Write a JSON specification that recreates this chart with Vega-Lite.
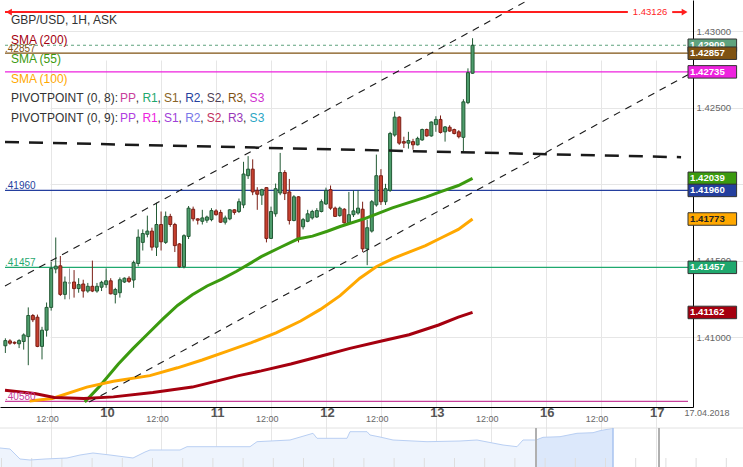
{
 "$schema": "https://vega.github.io/schema/vega-lite/v6.json",
 "padding": 0,
 "autosize": "none",
 "background": "#ffffff",
 "width": 743,
 "height": 467,
 "config": {"view": {"stroke": null}, "font": "Liberation Sans", "axis": {"labelFont": "Liberation Sans"}, "text": {"font": "Liberation Sans"}},
 "datasets": {
  "hlines": [{"key":"cur","p":1.42909,"t0":-22.08,"t1":127.04},{"key":"R3_8","p":1.42857,"t0":-22.08,"t1":127.04},{"key":"R1_9","p":1.42735,"t0":-22.08,"t1":127.04},{"key":"R2_8","p":1.4196,"t0":-22.08,"t1":127.04},{"key":"R1_8","p":1.41457,"t0":-22.08,"t1":127.04},{"key":"PP_8","p":1.4058,"t0":-22.08,"t1":127.04}],
  "tags": [{"key":"cur","p":1.42909,"t0":127.04,"t1":137.65,"tt":127.5},{"key":"R3_8","p":1.42857,"t0":127.04,"t1":137.65,"tt":127.5},{"key":"R1_9","p":1.42735,"t0":127.04,"t1":137.65,"tt":127.5},{"key":"SMA55","p":1.42039,"t0":127.04,"t1":137.65,"tt":127.5},{"key":"R2_8","p":1.4196,"t0":127.04,"t1":137.65,"tt":127.5},{"key":"SMA100","p":1.41773,"t0":127.04,"t1":137.65,"tt":127.5},{"key":"R1_8","p":1.41457,"t0":127.04,"t1":137.65,"tt":127.5},{"key":"SMA200","p":1.41162,"t0":127.04,"t1":137.65,"tt":127.5}],
  "alertsegs": [{"t":-22.08,"t2":113.91,"p":1.43126},{"t":123.59,"t2":125.97,"p":1.43126}],
  "alertarrows": [{"t":-21.22,"p":1.43126,"dir":"l"},{"t":126.3,"p":1.43126,"dir":"r"}],
  "alertlabel": [{"t":118.75,"p":1.43126}],
  "datelabel": [{"t":131.2,"p":1.405064,"txt":"17.04.2018"}],
  "days": [{"t":0.32,"p":1.40504,"txt":"10"},{"t":24.32,"p":1.40504,"txt":"11"},{"t":48.32,"p":1.40504,"txt":"12"},{"t":72.32,"p":1.40504,"txt":"13"},{"t":96.32,"p":1.40504,"txt":"16"},{"t":120.32,"p":1.40504,"txt":"17"}],
  "channels": [{"id":"up","t":-22.08,"p":1.41335},{"id":"up","t":127.04,"p":1.43775},{"id":"low","t":-3.7,"p":1.405765},{"id":"low","t":127.04,"p":1.42716}],
  "hchannel": [{"id":"h","t":-22.08,"p":1.42277},{"id":"h","t":125.53,"p":1.42177}],
  "sma": [
   {"key":"SMA55","t":-4.67,"p":1.405765},{"key":"SMA55","t":-1.64,"p":1.40672},{"key":"SMA55","t":2.67,"p":1.40825},{"key":"SMA55","t":5.9,"p":1.40927},{"key":"SMA55","t":9.12,"p":1.41023},{"key":"SMA55","t":12.35,"p":1.41118},{"key":"SMA55","t":15.58,"p":1.41208},{"key":"SMA55","t":18.81,"p":1.41278},{"key":"SMA55","t":22.04,"p":1.41335},{"key":"SMA55","t":25.26,"p":1.4138},{"key":"SMA55","t":28.49,"p":1.41431},{"key":"SMA55","t":31.72,"p":1.41488},{"key":"SMA55","t":33.87,"p":1.41527},{"key":"SMA55","t":38.18,"p":1.4159},{"key":"SMA55","t":41.83,"p":1.41642},{"key":"SMA55","t":45.06,"p":1.41661},{"key":"SMA55","t":48.29,"p":1.41693},{"key":"SMA55","t":51.09,"p":1.41724},{"key":"SMA55","t":56.46,"p":1.41775},{"key":"SMA55","t":62.49,"p":1.41846},{"key":"SMA55","t":69.8,"p":1.41916},{"key":"SMA55","t":73.25,"p":1.41954},{"key":"SMA55","t":76.91,"p":1.41992},{"key":"SMA55","t":80,"p":1.42039},
   {"key":"SMA100","t":-16.7,"p":1.40583},{"key":"SMA100","t":-11.75,"p":1.406},{"key":"SMA100","t":-4.22,"p":1.40674},{"key":"SMA100","t":1.59,"p":1.40712},{"key":"SMA100","t":9.55,"p":1.40749},{"key":"SMA100","t":15.58,"p":1.408},{"key":"SMA100","t":20.96,"p":1.40851},{"key":"SMA100","t":26.34,"p":1.40908},{"key":"SMA100","t":31.72,"p":1.40965},{"key":"SMA100","t":37.1,"p":1.41029},{"key":"SMA100","t":42.47,"p":1.41106},{"key":"SMA100","t":46.78,"p":1.41182},{"key":"SMA100","t":51.09,"p":1.41272},{"key":"SMA100","t":55.39,"p":1.41386},{"key":"SMA100","t":58.98,"p":1.41461},{"key":"SMA100","t":62.55,"p":1.41514},{"key":"SMA100","t":66.14,"p":1.41557},{"key":"SMA100","t":69.74,"p":1.41599},{"key":"SMA100","t":73.31,"p":1.41652},{"key":"SMA100","t":76.9,"p":1.41705},{"key":"SMA100","t":80,"p":1.41773},
   {"key":"SMA200","t":-22.08,"p":1.40653},{"key":"SMA200","t":-15.62,"p":1.40632},{"key":"SMA200","t":-11.32,"p":1.40606},{"key":"SMA200","t":-4.86,"p":1.406},{"key":"SMA200","t":1.59,"p":1.4061},{"key":"SMA200","t":10.2,"p":1.40638},{"key":"SMA200","t":18.81,"p":1.40674},{"key":"SMA200","t":28.92,"p":1.40749},{"key":"SMA200","t":33.87,"p":1.4078},{"key":"SMA200","t":40.32,"p":1.40825},{"key":"SMA200","t":46.78,"p":1.40876},{"key":"SMA200","t":53.23,"p":1.40927},{"key":"SMA200","t":59.68,"p":1.40972},{"key":"SMA200","t":66.14,"p":1.41016},{"key":"SMA200","t":72.6,"p":1.4108},{"key":"SMA200","t":76.9,"p":1.41131},{"key":"SMA200","t":80,"p":1.41162}
  ],
  "candles": [
   {"t":-22,"o":1.40944,"h":1.40993,"l":1.40897,"c":1.40978},{"t":-21,"o":1.40976,"h":1.40987,"l":1.40951,"c":1.40961},{"t":-20,"o":1.40967,"h":1.40972,"l":1.40953,"c":1.40961},{"t":-19,"o":1.40957,"h":1.40987,"l":1.40929,"c":1.40978},{"t":-18,"o":1.40972,"h":1.41025,"l":1.40919,"c":1.41015},{"t":-17,"o":1.41004,"h":1.41195,"l":1.40817,"c":1.41142},{"t":-16,"o":1.41142,"h":1.41152,"l":1.41099,"c":1.41114},{"t":-15,"o":1.41131,"h":1.41148,"l":1.40935,"c":1.4094},{"t":-14,"o":1.4094,"h":1.41068,"l":1.40855,"c":1.41046},{"t":-13,"o":1.41046,"h":1.41227,"l":1.41004,"c":1.41195},{"t":-12,"o":1.41195,"h":1.41493,"l":1.41174,"c":1.4145},{"t":-11,"o":1.41446,"h":1.41652,"l":1.41418,"c":1.41465},{"t":-10,"o":1.41467,"h":1.41531,"l":1.4127,"c":1.4128},{"t":-9,"o":1.4128,"h":1.41397,"l":1.41248,"c":1.41361},{"t":-8,"o":1.41355,"h":1.4145,"l":1.41248,"c":1.41355},{"t":-7,"o":1.41361,"h":1.41439,"l":1.41259,"c":1.41318},{"t":-6,"o":1.41318,"h":1.41386,"l":1.41291,"c":1.41344},{"t":-5,"o":1.41348,"h":1.41376,"l":1.41259,"c":1.41302},{"t":-4,"o":1.41302,"h":1.41355,"l":1.41291,"c":1.41333},{"t":-3,"o":1.41333,"h":1.41501,"l":1.41295,"c":1.41302},{"t":-2,"o":1.41302,"h":1.41355,"l":1.41291,"c":1.41333},{"t":-1,"o":1.41327,"h":1.41369,"l":1.41302,"c":1.41359},
   {"t":0,"o":1.41344,"h":1.4145,"l":1.41323,"c":1.41369},{"t":1,"o":1.41369,"h":1.41386,"l":1.4128,"c":1.41284},{"t":2,"o":1.4128,"h":1.41323,"l":1.41221,"c":1.41312},{"t":3,"o":1.41291,"h":1.41391,"l":1.41259,"c":1.41376},{"t":4,"o":1.41361,"h":1.41391,"l":1.41355,"c":1.41386},{"t":5,"o":1.41386,"h":1.41399,"l":1.41355,"c":1.41365},{"t":6,"o":1.41374,"h":1.41501,"l":1.41323,"c":1.41488},{"t":7,"o":1.41482,"h":1.41705,"l":1.41463,"c":1.41654},{"t":8,"o":1.4162,"h":1.41705,"l":1.41567,"c":1.41678},{"t":9,"o":1.41673,"h":1.41795,"l":1.41653,"c":1.41694},{"t":10,"o":1.41694,"h":1.41716,"l":1.41567,"c":1.41589},{"t":11,"o":1.41589,"h":1.41879,"l":1.41531,"c":1.41737},{"t":12,"o":1.41737,"h":1.41822,"l":1.41567,"c":1.41624},{"t":13,"o":1.4162,"h":1.41822,"l":1.4161,"c":1.4179},{"t":14,"o":1.4179,"h":1.41807,"l":1.41722,"c":1.41737},{"t":15,"o":1.41737,"h":1.41748,"l":1.41557,"c":1.41599},{"t":16,"o":1.4161,"h":1.41616,"l":1.41455,"c":1.41461},{"t":17,"o":1.41461,"h":1.41673,"l":1.4145,"c":1.41664},{"t":18,"o":1.41659,"h":1.41858,"l":1.41642,"c":1.41844},{"t":19,"o":1.41837,"h":1.41854,"l":1.41758,"c":1.41774},{"t":20,"o":1.41774,"h":1.41777,"l":1.41737,"c":1.41765},{"t":21,"o":1.41758,"h":1.41833,"l":1.41737,"c":1.4178},{"t":22,"o":1.41765,"h":1.41795,"l":1.41748,"c":1.41786},{"t":23,"o":1.41769,"h":1.41844,"l":1.41758,"c":1.41828},
   {"t":24,"o":1.41826,"h":1.41837,"l":1.41795,"c":1.41801},{"t":25,"o":1.41816,"h":1.41833,"l":1.41748,"c":1.41752},{"t":26,"o":1.41752,"h":1.41795,"l":1.41737,"c":1.4178},{"t":27,"o":1.41774,"h":1.41837,"l":1.41765,"c":1.41833},{"t":28,"o":1.41833,"h":1.41837,"l":1.41801,"c":1.41816},{"t":29,"o":1.41822,"h":1.41907,"l":1.41812,"c":1.41886},{"t":30,"o":1.41865,"h":1.42147,"l":1.41844,"c":1.42067},{"t":31,"o":1.42056,"h":1.42184,"l":1.42035,"c":1.42099},{"t":32,"o":1.42099,"h":1.42163,"l":1.41929,"c":1.4195},{"t":33,"o":1.4196,"h":1.41981,"l":1.41833,"c":1.41935},{"t":34,"o":1.41929,"h":1.41971,"l":1.41865,"c":1.41965},{"t":35,"o":1.41978,"h":1.41981,"l":1.4162,"c":1.41646},{"t":36,"o":1.41646,"h":1.41854,"l":1.41642,"c":1.41822},{"t":37,"o":1.41807,"h":1.42005,"l":1.41788,"c":1.41971},{"t":38,"o":1.41943,"h":1.42205,"l":1.41929,"c":1.42077},{"t":39,"o":1.42077,"h":1.42092,"l":1.41897,"c":1.41939},{"t":40,"o":1.4195,"h":1.42035,"l":1.41737,"c":1.41763},{"t":41,"o":1.41763,"h":1.41929,"l":1.41758,"c":1.41918},{"t":42,"o":1.41918,"h":1.41922,"l":1.4162,"c":1.41646},{"t":43,"o":1.41722,"h":1.4178,"l":1.41705,"c":1.41769},{"t":44,"o":1.41758,"h":1.41833,"l":1.41752,"c":1.41807},{"t":45,"o":1.4178,"h":1.41833,"l":1.41769,"c":1.41822},{"t":46,"o":1.41786,"h":1.41844,"l":1.4178,"c":1.41828},{"t":47,"o":1.41822,"h":1.41901,"l":1.41816,"c":1.41886},
   {"t":48,"o":1.41871,"h":1.41978,"l":1.41865,"c":1.4196},{"t":49,"o":1.41965,"h":1.41992,"l":1.41833,"c":1.41844},{"t":50,"o":1.41844,"h":1.41854,"l":1.41786,"c":1.4179},{"t":51,"o":1.41795,"h":1.41854,"l":1.41788,"c":1.41844},{"t":52,"o":1.41837,"h":1.41844,"l":1.41743,"c":1.41748},{"t":53,"o":1.41748,"h":1.4195,"l":1.41737,"c":1.41801},{"t":54,"o":1.41801,"h":1.4196,"l":1.41786,"c":1.41826},{"t":55,"o":1.41812,"h":1.4196,"l":1.41801,"c":1.41844},{"t":56,"o":1.41837,"h":1.41886,"l":1.41557,"c":1.41578},{"t":57,"o":1.41578,"h":1.41769,"l":1.41471,"c":1.41716},{"t":58,"o":1.41694,"h":1.41897,"l":1.41684,"c":1.41886},{"t":59,"o":1.41865,"h":1.42194,"l":1.41854,"c":1.42056},{"t":60,"o":1.42056,"h":1.42099,"l":1.41865,"c":1.41886},{"t":61,"o":1.41886,"h":1.42003,"l":1.41865,"c":1.41971},{"t":62,"o":1.4196,"h":1.42343,"l":1.4195,"c":1.42332},{"t":63,"o":1.42322,"h":1.42475,"l":1.42311,"c":1.42439},{"t":64,"o":1.42439,"h":1.42445,"l":1.42258,"c":1.42269},{"t":65,"o":1.42279,"h":1.42311,"l":1.42237,"c":1.42269},{"t":66,"o":1.42269,"h":1.42343,"l":1.42233,"c":1.42286},{"t":67,"o":1.42279,"h":1.42297,"l":1.42226,"c":1.42258},{"t":68,"o":1.42258,"h":1.42311,"l":1.42254,"c":1.423},{"t":69,"o":1.4229,"h":1.42364,"l":1.42284,"c":1.42358},{"t":70,"o":1.42358,"h":1.42364,"l":1.42311,"c":1.42316},{"t":71,"o":1.42316,"h":1.42411,"l":1.42311,"c":1.42407},
   {"t":72,"o":1.4239,"h":1.42445,"l":1.42343,"c":1.42424},{"t":73,"o":1.42424,"h":1.4245,"l":1.42332,"c":1.42339},{"t":74,"o":1.42343,"h":1.42381,"l":1.42279,"c":1.42375},{"t":75,"o":1.42373,"h":1.42386,"l":1.42343,"c":1.42348},{"t":76,"o":1.42358,"h":1.42364,"l":1.42326,"c":1.42332},{"t":77,"o":1.42343,"h":1.42354,"l":1.423,"c":1.42311},{"t":78,"o":1.42307,"h":1.42556,"l":1.42216,"c":1.42539},{"t":79,"o":1.42534,"h":1.42758,"l":1.42524,"c":1.4273},{"t":80,"o":1.42726,"h":1.42955,"l":1.42722,"c":1.42909}
  ],
  "legend": [
   {"t":-20.785,"p":1.43077,"txt":"GBP/USD, 1H, ASK","key":"dark"},
   {"t":-20.785,"p":1.42945,"txt":"SMA (200)","key":"SMA200"},
   {"t":-20.785,"p":1.42818,"txt":"SMA (55)","key":"SMA55"},
   {"t":-20.785,"p":1.42689,"txt":"SMA (100)","key":"SMA100"},
   {"t":-20.785,"p":1.42562,"txt":"PIVOTPOINT (0, 8):","key":"dark"},
   {"t":3.034,"p":1.42562,"txt":"PP","key":"PP_8"},{"t":6.477,"p":1.42562,"txt":",","key":"dark"},
   {"t":7.918,"p":1.42562,"txt":"R1","key":"R1_8"},{"t":11.21,"p":1.42562,"txt":",","key":"dark"},
   {"t":12.652,"p":1.42562,"txt":"S1","key":"S1_8"},{"t":15.815,"p":1.42562,"txt":",","key":"dark"},
   {"t":17.257,"p":1.42562,"txt":"R2","key":"R2_8"},{"t":20.549,"p":1.42562,"txt":",","key":"dark"},
   {"t":21.991,"p":1.42562,"txt":"S2","key":"S2_8"},{"t":25.154,"p":1.42562,"txt":",","key":"dark"},
   {"t":26.595,"p":1.42562,"txt":"R3","key":"R3_8"},{"t":29.887,"p":1.42562,"txt":",","key":"dark"},
   {"t":31.329,"p":1.42562,"txt":"S3","key":"S3_8"},
   {"t":-20.785,"p":1.42434,"txt":"PIVOTPOINT (0, 9):","key":"dark"},
   {"t":3.034,"p":1.42434,"txt":"PP","key":"PP_9"},{"t":6.477,"p":1.42434,"txt":",","key":"dark"},
   {"t":7.918,"p":1.42434,"txt":"R1","key":"R1_9"},{"t":11.21,"p":1.42434,"txt":",","key":"dark"},
   {"t":12.652,"p":1.42434,"txt":"S1","key":"S1_9"},{"t":15.815,"p":1.42434,"txt":",","key":"dark"},
   {"t":17.257,"p":1.42434,"txt":"R2","key":"R2_9"},{"t":20.549,"p":1.42434,"txt":",","key":"dark"},
   {"t":21.991,"p":1.42434,"txt":"S2","key":"S2_9"},{"t":25.154,"p":1.42434,"txt":",","key":"dark"},
   {"t":26.595,"p":1.42434,"txt":"R3","key":"R3_9"},{"t":29.887,"p":1.42434,"txt":",","key":"dark"},
   {"t":31.329,"p":1.42434,"txt":"S3","key":"S3_9"}
  ],
  "nav": [{"n":0,"v":19},{"n":10,"v":18},{"n":20,"v":8},{"n":30,"v":7},{"n":45,"v":8},{"n":67,"v":9},{"n":80,"v":12},{"n":93,"v":14},{"n":110,"v":12},{"n":133,"v":9},{"n":145,"v":15},{"n":150,"v":17},{"n":180,"v":17},{"n":187,"v":20.3},{"n":250,"v":20.3},{"n":257,"v":25.3},{"n":290,"v":27},{"n":313,"v":33.7},{"n":317,"v":28.7},{"n":347,"v":28.7},{"n":350,"v":35.3},{"n":367,"v":35.3},{"n":370,"v":32},{"n":380,"v":30},{"n":393,"v":27},{"n":427,"v":25.3},{"n":460,"v":26},{"n":477,"v":27},{"n":503,"v":22},{"n":517,"v":20.3},{"n":523,"v":27},{"n":536,"v":27},{"n":543,"v":29.7},{"n":560,"v":30.3},{"n":577,"v":33.7},{"n":593,"v":34.3},{"n":600,"v":36.3},{"n":613,"v":38.7}],
  "navsel": [{"n":536,"v":27},{"n":543,"v":29.7},{"n":560,"v":30.3},{"n":577,"v":33.7},{"n":593,"v":34.3},{"n":600,"v":36.3},{"n":613,"v":38.7}],
  "navticks": [{"n":1.5,"v0":0,"v1":9},{"n":31.7,"v0":0,"v1":9},{"n":61.9,"v0":0,"v1":9},{"n":92.1,"v0":0,"v1":9},{"n":122.3,"v0":0,"v1":9},{"n":152.5,"v0":0,"v1":9},{"n":182.7,"v0":0,"v1":9},{"n":212.9,"v0":0,"v1":9},{"n":243.1,"v0":0,"v1":9},{"n":273.3,"v0":0,"v1":9},{"n":303.5,"v0":0,"v1":9},{"n":333.7,"v0":0,"v1":9},{"n":363.9,"v0":0,"v1":9},{"n":394.1,"v0":0,"v1":9},{"n":424.3,"v0":0,"v1":9},{"n":454.5,"v0":0,"v1":9},{"n":484.7,"v0":0,"v1":9},{"n":514.9,"v0":0,"v1":9},{"n":545.1,"v0":0,"v1":9},{"n":575.3,"v0":0,"v1":9},{"n":605.5,"v0":0,"v1":9},{"n":635.7,"v0":0,"v1":9},{"n":665.9,"v0":0,"v1":9},{"n":696.1,"v0":0,"v1":9},{"n":726.3,"v0":0,"v1":9}],
  "navgray": [{"n":536,"v0":0,"v1":39},{"n":659,"v0":0,"v1":39}],
  "navblue": [{"n":613,"v0":0,"v1":39}],
  "navtop": [{"n0":0,"n1":743,"v":39}]
 },
 "resolve": {"scale": {"x": "independent", "y": "independent"}},
 "layer": [
  {
   "layer": [
    {
     "data": {"name": "hlines"},
     "transform": [{"filter": "datum.key != 'cur'"}],
     "mark": {"type": "rule", "strokeWidth": 1.2},
     "encoding": {
      "x": {"field": "t0", "type": "quantitative", "title": null, "scale": {"domain": [-22.08, 127.04], "range": [0, 693], "nice": false, "zero": false}},
      "x2": {"field": "t1"},
      "y": {"field": "p", "type": "quantitative", "title": null, "scale": {"domain": [1.405765, 1.431722], "range": [407, 0], "nice": false, "zero": false}},
      "color": {"field": "key", "type": "nominal", "legend": null, "scale": {"domain": ["dark","SMA200","SMA55","SMA100","cur","PP_8","R1_8","S1_8","R2_8","S2_8","R3_8","S3_8","PP_9","R1_9","S1_9","R2_9","S2_9","R3_9","S3_9"], "range": ["#333333","#a5000f","#3b9a0f","#ffa800","#5fa37e","#c8409c","#1fa86e","#8a6424","#243f9e","#4f3f55","#7f5212","#cf32cf","#b040e0","#ee22de","#a040d8","#7878e8","#c0305e","#9838b8","#2aa6c4"]}}
     }
    },
    {
     "data": {"name": "hlines"},
     "transform": [{"filter": "datum.key == 'cur'"}],
     "mark": {"type": "rule", "strokeWidth": 1, "strokeDash": [3, 3], "color": "#5fa37e"},
     "encoding": {
      "x": {"field": "t0", "type": "quantitative", "title": null, "scale": {"domain": [-22.08, 127.04], "range": [0, 693], "nice": false, "zero": false}},
      "x2": {"field": "t1"},
      "y": {"field": "p", "type": "quantitative", "title": null, "scale": {"domain": [1.405765, 1.431722], "range": [407, 0], "nice": false, "zero": false}}
     }
    },
    {
     "data": {"name": "candles"},
     "transform": [{"filter": "datum.c > datum.o"}],
     "mark": {"type": "rule", "strokeWidth": 1, "color": "#235a35"},
     "encoding": {
      "x": {"field": "t", "type": "quantitative", "title": null, "scale": {"domain": [-22.08, 127.04], "range": [0, 693], "nice": false, "zero": false}},
      "y": {"field": "l", "type": "quantitative", "title": null, "scale": {"domain": [1.405765, 1.431722], "range": [407, 0], "nice": false, "zero": false}},
      "y2": {"field": "h"}
     }
    },
    {
     "data": {"name": "candles"},
     "transform": [{"filter": "datum.c < datum.o"}],
     "mark": {"type": "rule", "strokeWidth": 1, "color": "#7b1f16"},
     "encoding": {
      "x": {"field": "t", "type": "quantitative", "title": null, "scale": {"domain": [-22.08, 127.04], "range": [0, 693], "nice": false, "zero": false}},
      "y": {"field": "l", "type": "quantitative", "title": null, "scale": {"domain": [1.405765, 1.431722], "range": [407, 0], "nice": false, "zero": false}},
      "y2": {"field": "h"}
     }
    },
    {
     "data": {"name": "candles"},
     "transform": [{"filter": "datum.c == datum.o"}],
     "mark": {"type": "rule", "strokeWidth": 1, "color": "#999999"},
     "encoding": {
      "x": {"field": "t", "type": "quantitative", "title": null, "scale": {"domain": [-22.08, 127.04], "range": [0, 693], "nice": false, "zero": false}},
      "y": {"field": "l", "type": "quantitative", "title": null, "scale": {"domain": [1.405765, 1.431722], "range": [407, 0], "nice": false, "zero": false}},
      "y2": {"field": "h"}
     }
    },
    {
     "data": {"name": "candles"},
     "transform": [{"filter": "datum.c > datum.o"}],
     "mark": {"type": "bar", "width": 3, "strokeWidth": 1, "fill": "#4e9d6c", "stroke": "#235a35"},
     "encoding": {
      "x": {"field": "t", "type": "quantitative", "title": null, "scale": {"domain": [-22.08, 127.04], "range": [0, 693], "nice": false, "zero": false}},
      "y": {"field": "o", "type": "quantitative", "title": null, "scale": {"domain": [1.405765, 1.431722], "range": [407, 0], "nice": false, "zero": false}},
      "y2": {"field": "c"}
     }
    },
    {
     "data": {"name": "candles"},
     "transform": [{"filter": "datum.c < datum.o"}],
     "mark": {"type": "bar", "width": 3, "strokeWidth": 1, "fill": "#c7402f", "stroke": "#7b1f16"},
     "encoding": {
      "x": {"field": "t", "type": "quantitative", "title": null, "scale": {"domain": [-22.08, 127.04], "range": [0, 693], "nice": false, "zero": false}},
      "y": {"field": "o", "type": "quantitative", "title": null, "scale": {"domain": [1.405765, 1.431722], "range": [407, 0], "nice": false, "zero": false}},
      "y2": {"field": "c"}
     }
    },
    {
     "data": {"name": "candles"},
     "transform": [{"filter": "datum.c == datum.o"}],
     "mark": {"type": "bar", "width": 3, "strokeWidth": 1, "fill": "#999999", "stroke": "#999999"},
     "encoding": {
      "x": {"field": "t", "type": "quantitative", "title": null, "scale": {"domain": [-22.08, 127.04], "range": [0, 693], "nice": false, "zero": false}},
      "y": {"field": "o", "type": "quantitative", "title": null, "scale": {"domain": [1.405765, 1.431722], "range": [407, 0], "nice": false, "zero": false}},
      "y2": {"field": "c"}
     }
    },
    {
     "data": {"name": "sma"},
     "mark": {"type": "line", "strokeWidth": 3},
     "encoding": {
      "x": {"field": "t", "type": "quantitative", "title": null, "scale": {"domain": [-22.08, 127.04], "range": [0, 693], "nice": false, "zero": false},
        "axis": {"values": [-12, 0, 12, 24, 36, 48, 60, 72, 84, 96, 108, 120], "offset": -60,
          "labelExpr": "datum.value % 24 == 0 ? '' : '12:00'",
          "labelFontSize": 9, "labelColor": "#666666", "labelOffset": -4.2,
          "labelBaseline": "middle", "labelPadding": 11.5, "ticks": false, "tickSize": 0,
          "domainColor": "#000000", "domainWidth": 1, "grid": true, "gridColor": "#e6e6e6",
          "labelFlush": false, "labelOverlap": false, "title": null}},
      "y": {"field": "p", "type": "quantitative", "title": null, "scale": {"domain": [1.405765, 1.431722], "range": [407, 0], "nice": false, "zero": false},
        "axis": {"orient": "right", "offset": -50, "values": [1.41, 1.415, 1.42, 1.425, 1.43], "format": ".5f",
          "labelFontSize": 9.6, "labelColor": "#666666", "labelPadding": 3, "ticks": false, "tickSize": 0,
          "domainColor": "#000000", "domainWidth": 1, "grid": true, "gridColor": "#e6e6e6",
          "labelFlush": false, "labelOverlap": false, "title": null}},
      "color": {"field": "key", "type": "nominal", "legend": null, "scale": {"domain": ["dark","SMA200","SMA55","SMA100","cur","PP_8","R1_8","S1_8","R2_8","S2_8","R3_8","S3_8","PP_9","R1_9","S1_9","R2_9","S2_9","R3_9","S3_9"], "range": ["#333333","#a5000f","#3b9a0f","#ffa800","#5fa37e","#c8409c","#1fa86e","#8a6424","#243f9e","#4f3f55","#7f5212","#cf32cf","#b040e0","#ee22de","#a040d8","#7878e8","#c0305e","#9838b8","#2aa6c4"]}}
     }
    },
    {
     "data": {"name": "channels"},
     "mark": {"type": "line", "color": "#1a1a1a", "strokeWidth": 1.1, "strokeDash": [7, 6]},
     "encoding": {
      "x": {"field": "t", "type": "quantitative", "title": null, "scale": {"domain": [-22.08, 127.04], "range": [0, 693], "nice": false, "zero": false}},
      "y": {"field": "p", "type": "quantitative", "title": null, "scale": {"domain": [1.405765, 1.431722], "range": [407, 0], "nice": false, "zero": false}},
      "detail": {"field": "id", "type": "nominal"}
     }
    },
    {
     "data": {"name": "hchannel"},
     "mark": {"type": "line", "color": "#1a1a1a", "strokeWidth": 2.5, "strokeDash": [14, 10]},
     "encoding": {
      "x": {"field": "t", "type": "quantitative", "title": null, "scale": {"domain": [-22.08, 127.04], "range": [0, 693], "nice": false, "zero": false}},
      "y": {"field": "p", "type": "quantitative", "title": null, "scale": {"domain": [1.405765, 1.431722], "range": [407, 0], "nice": false, "zero": false}}
     }
    },
    {
     "data": {"name": "alertsegs"},
     "mark": {"type": "rule", "color": "#ff1e1e", "strokeWidth": 2},
     "encoding": {
      "x": {"field": "t", "type": "quantitative", "title": null, "scale": {"domain": [-22.08, 127.04], "range": [0, 693], "nice": false, "zero": false}},
      "x2": {"field": "t2"},
      "y": {"field": "p", "type": "quantitative", "title": null, "scale": {"domain": [1.405765, 1.431722], "range": [407, 0], "nice": false, "zero": false}}
     }
    },
    {
     "data": {"name": "alertarrows"},
     "mark": {"type": "point", "size": 45, "filled": true, "opacity": 1, "color": "#ff1e1e"},
     "encoding": {
      "x": {"field": "t", "type": "quantitative", "title": null, "scale": {"domain": [-22.08, 127.04], "range": [0, 693], "nice": false, "zero": false}},
      "y": {"field": "p", "type": "quantitative", "title": null, "scale": {"domain": [1.405765, 1.431722], "range": [407, 0], "nice": false, "zero": false}},
      "shape": {"field": "dir", "type": "nominal", "legend": null, "scale": {"domain": ["l", "r"], "range": ["triangle-left", "triangle-right"]}}
     }
    },
    {
     "data": {"name": "alertlabel"},
     "mark": {"type": "text", "align": "center", "baseline": "middle", "fontSize": 9.5, "color": "#ff1e1e"},
     "encoding": {
      "x": {"field": "t", "type": "quantitative", "title": null, "scale": {"domain": [-22.08, 127.04], "range": [0, 693], "nice": false, "zero": false}},
      "y": {"field": "p", "type": "quantitative", "title": null, "scale": {"domain": [1.405765, 1.431722], "range": [407, 0], "nice": false, "zero": false}},
      "text": {"field": "p", "type": "quantitative", "format": ".5f"}
     }
    },
    {
     "data": {"name": "legend"},
     "mark": {"type": "text", "align": "left", "baseline": "middle", "fontSize": 12},
     "encoding": {
      "x": {"field": "t", "type": "quantitative", "title": null, "scale": {"domain": [-22.08, 127.04], "range": [0, 693], "nice": false, "zero": false}},
      "y": {"field": "p", "type": "quantitative", "title": null, "scale": {"domain": [1.405765, 1.431722], "range": [407, 0], "nice": false, "zero": false}},
      "text": {"field": "txt", "type": "nominal"},
      "color": {"field": "key", "type": "nominal", "legend": null, "scale": {"domain": ["dark","SMA200","SMA55","SMA100","cur","PP_8","R1_8","S1_8","R2_8","S2_8","R3_8","S3_8","PP_9","R1_9","S1_9","R2_9","S2_9","R3_9","S3_9"], "range": ["#333333","#a5000f","#3b9a0f","#ffa800","#5fa37e","#c8409c","#1fa86e","#8a6424","#243f9e","#4f3f55","#7f5212","#cf32cf","#b040e0","#ee22de","#a040d8","#7878e8","#c0305e","#9838b8","#2aa6c4"]}}
     }
    },
    {
     "data": {"name": "hlines"},
     "transform": [{"filter": "datum.key != 'cur' && datum.key != 'R1_9'"}, {"calculate": "substring(format(datum.p, '.5f'), 1)", "as": "lbl"}],
     "mark": {"type": "text", "align": "left", "baseline": "alphabetic", "fontSize": 10, "dy": -1.5},
     "encoding": {
      "x": {"field": "t0", "type": "quantitative", "title": null, "scale": {"domain": [-22.08, 127.04], "range": [0, 693], "nice": false, "zero": false}},
      "y": {"field": "p", "type": "quantitative", "title": null, "scale": {"domain": [1.405765, 1.431722], "range": [407, 0], "nice": false, "zero": false}},
      "text": {"field": "lbl", "type": "nominal"},
      "color": {"field": "key", "type": "nominal", "legend": null, "scale": {"domain": ["dark","SMA200","SMA55","SMA100","cur","PP_8","R1_8","S1_8","R2_8","S2_8","R3_8","S3_8","PP_9","R1_9","S1_9","R2_9","S2_9","R3_9","S3_9"], "range": ["#333333","#a5000f","#3b9a0f","#ffa800","#5fa37e","#c8409c","#1fa86e","#8a6424","#243f9e","#4f3f55","#7f5212","#cf32cf","#b040e0","#ee22de","#a040d8","#7878e8","#c0305e","#9838b8","#2aa6c4"]}}
     }
    },
    {
     "data": {"name": "tags"},
     "transform": [{"filter": "datum.key == 'cur'"}],
     "mark": {"type": "bar", "height": 12.5, "stroke": "#333333", "strokeWidth": 1, "fill": "#5fa37e"},
     "encoding": {
      "x": {"field": "t0", "type": "quantitative", "title": null, "scale": {"domain": [-22.08, 127.04], "range": [0, 693], "nice": false, "zero": false}},
      "x2": {"field": "t1"},
      "y": {"field": "p", "type": "quantitative", "title": null, "scale": {"domain": [1.405765, 1.431722], "range": [407, 0], "nice": false, "zero": false}}
     }
    },
    {
     "data": {"name": "tags"},
     "transform": [{"filter": "datum.key == 'cur'"}],
     "mark": {"type": "text", "align": "left", "baseline": "middle", "fontSize": 9.6, "fontWeight": "bold", "color": "#ffffff"},
     "encoding": {
      "x": {"field": "tt", "type": "quantitative", "title": null, "scale": {"domain": [-22.08, 127.04], "range": [0, 693], "nice": false, "zero": false}},
      "y": {"field": "p", "type": "quantitative", "title": null, "scale": {"domain": [1.405765, 1.431722], "range": [407, 0], "nice": false, "zero": false}},
      "text": {"field": "p", "type": "quantitative", "format": ".5f"}
     }
    },
    {
     "data": {"name": "tags"},
     "transform": [{"filter": "datum.key != 'cur'"}],
     "mark": {"type": "bar", "height": 12.5, "stroke": "#333333", "strokeWidth": 1},
     "encoding": {
      "x": {"field": "t0", "type": "quantitative", "title": null, "scale": {"domain": [-22.08, 127.04], "range": [0, 693], "nice": false, "zero": false}},
      "x2": {"field": "t1"},
      "y": {"field": "p", "type": "quantitative", "title": null, "scale": {"domain": [1.405765, 1.431722], "range": [407, 0], "nice": false, "zero": false}},
      "color": {"field": "key", "type": "nominal", "legend": null, "scale": {"domain": ["dark","SMA200","SMA55","SMA100","cur","PP_8","R1_8","S1_8","R2_8","S2_8","R3_8","S3_8","PP_9","R1_9","S1_9","R2_9","S2_9","R3_9","S3_9"], "range": ["#333333","#a5000f","#3b9a0f","#ffa800","#5fa37e","#c8409c","#1fa86e","#8a6424","#243f9e","#4f3f55","#7f5212","#cf32cf","#b040e0","#ee22de","#a040d8","#7878e8","#c0305e","#9838b8","#2aa6c4"]}}
     }
    },
    {
     "data": {"name": "tags"},
     "transform": [{"filter": "datum.key != 'cur' && datum.key != 'SMA100'"}],
     "mark": {"type": "text", "align": "left", "baseline": "middle", "fontSize": 9.6, "fontWeight": "bold", "color": "#ffffff"},
     "encoding": {
      "x": {"field": "tt", "type": "quantitative", "title": null, "scale": {"domain": [-22.08, 127.04], "range": [0, 693], "nice": false, "zero": false}},
      "y": {"field": "p", "type": "quantitative", "title": null, "scale": {"domain": [1.405765, 1.431722], "range": [407, 0], "nice": false, "zero": false}},
      "text": {"field": "p", "type": "quantitative", "format": ".5f"}
     }
    },
    {
     "data": {"name": "tags"},
     "transform": [{"filter": "datum.key == 'SMA100'"}],
     "mark": {"type": "text", "align": "left", "baseline": "middle", "fontSize": 9.6, "fontWeight": "bold", "color": "#222222"},
     "encoding": {
      "x": {"field": "tt", "type": "quantitative", "title": null, "scale": {"domain": [-22.08, 127.04], "range": [0, 693], "nice": false, "zero": false}},
      "y": {"field": "p", "type": "quantitative", "title": null, "scale": {"domain": [1.405765, 1.431722], "range": [407, 0], "nice": false, "zero": false}},
      "text": {"field": "p", "type": "quantitative", "format": ".5f"}
     }
    },
    {
     "data": {"name": "datelabel"},
     "mark": {"type": "text", "align": "center", "baseline": "middle", "fontSize": 9, "color": "#666666"},
     "encoding": {
      "x": {"field": "t", "type": "quantitative", "title": null, "scale": {"domain": [-22.08, 127.04], "range": [0, 693], "nice": false, "zero": false}},
      "y": {"field": "p", "type": "quantitative", "title": null, "scale": {"domain": [1.405765, 1.431722], "range": [407, 0], "nice": false, "zero": false}},
      "text": {"field": "txt", "type": "nominal"}
     }
    },
    {
     "data": {"name": "days"},
     "mark": {"type": "text", "align": "center", "baseline": "middle", "fontSize": 13, "fontWeight": "bold", "color": "#555555"},
     "encoding": {
      "x": {"field": "t", "type": "quantitative", "title": null, "scale": {"domain": [-22.08, 127.04], "range": [0, 693], "nice": false, "zero": false}},
      "y": {"field": "p", "type": "quantitative", "title": null, "scale": {"domain": [1.405765, 1.431722], "range": [407, 0], "nice": false, "zero": false}},
      "text": {"field": "txt", "type": "nominal"}
     }
    }
   ]
  },
  {
   "layer": [
    {
     "data": {"name": "nav"},
     "mark": {"type": "area", "color": "#eef4fd"},
     "encoding": {
      "x": {"field": "n", "type": "quantitative", "axis": null, "scale": {"domain": [0, 743], "range": [0, 743], "nice": false, "zero": false}},
      "y": {"field": "v", "type": "quantitative", "axis": null, "scale": {"domain": [0, 39], "range": [467, 428], "nice": false}}
     }
    },
    {
     "data": {"name": "navsel"},
     "mark": {"type": "area", "color": "#dce8fb"},
     "encoding": {
      "x": {"field": "n", "type": "quantitative", "axis": null, "scale": {"domain": [0, 743], "range": [0, 743], "nice": false, "zero": false}},
      "y": {"field": "v", "type": "quantitative", "axis": null, "scale": {"domain": [0, 39], "range": [467, 428], "nice": false}}
     }
    },
    {
     "data": {"name": "navticks"},
     "mark": {"type": "rule", "color": "#dedede", "strokeWidth": 1},
     "encoding": {
      "x": {"field": "n", "type": "quantitative", "axis": null, "scale": {"domain": [0, 743], "range": [0, 743], "nice": false, "zero": false}},
      "y": {"field": "v0", "type": "quantitative", "axis": null, "scale": {"domain": [0, 39], "range": [467, 428], "nice": false}},
      "y2": {"field": "v1"}
     }
    },
    {
     "data": {"name": "nav"},
     "mark": {"type": "line", "color": "#b9cff3", "strokeWidth": 1},
     "encoding": {
      "x": {"field": "n", "type": "quantitative", "axis": null, "scale": {"domain": [0, 743], "range": [0, 743], "nice": false, "zero": false}},
      "y": {"field": "v", "type": "quantitative", "axis": null, "scale": {"domain": [0, 39], "range": [467, 428], "nice": false}}
     }
    },
    {
     "data": {"name": "navtop"},
     "mark": {"type": "rule", "color": "#e2e2e2", "strokeWidth": 1},
     "encoding": {
      "x": {"field": "n0", "type": "quantitative", "axis": null, "scale": {"domain": [0, 743], "range": [0, 743], "nice": false, "zero": false}},
      "x2": {"field": "n1"},
      "y": {"field": "v", "type": "quantitative", "axis": null, "scale": {"domain": [0, 39], "range": [467, 428], "nice": false}}
     }
    },
    {
     "data": {"name": "navgray"},
     "mark": {"type": "rule", "strokeWidth": 2, "color": "#b0b0b0"},
     "encoding": {
      "x": {"field": "n", "type": "quantitative", "axis": null, "scale": {"domain": [0, 743], "range": [0, 743], "nice": false, "zero": false}},
      "y": {"field": "v0", "type": "quantitative", "axis": null, "scale": {"domain": [0, 39], "range": [467, 428], "nice": false}},
      "y2": {"field": "v1"}
     }
    },
    {
     "data": {"name": "navblue"},
     "mark": {"type": "rule", "strokeWidth": 1.5, "color": "#a9c3ef"},
     "encoding": {
      "x": {"field": "n", "type": "quantitative", "axis": null, "scale": {"domain": [0, 743], "range": [0, 743], "nice": false, "zero": false}},
      "y": {"field": "v0", "type": "quantitative", "axis": null, "scale": {"domain": [0, 39], "range": [467, 428], "nice": false}},
      "y2": {"field": "v1"}
     }
    }
   ]
  }
 ]
}
